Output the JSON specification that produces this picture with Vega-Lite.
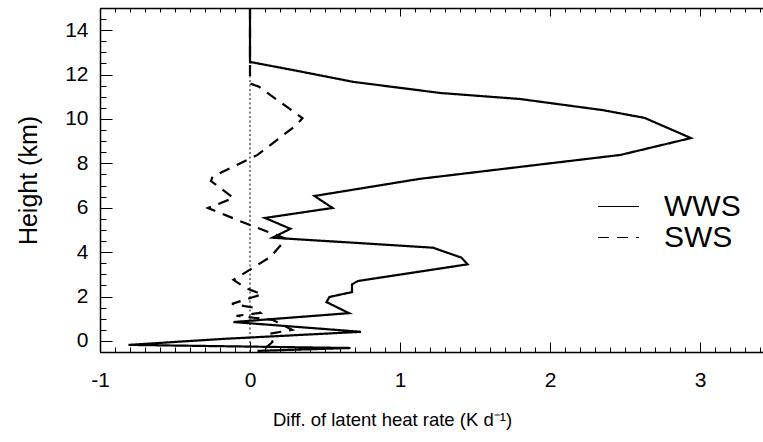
{
  "$schema": "https://vega.github.io/schema/vega-lite/v6.json",
  "width": 663,
  "height": 344,
  "autosize": {"type": "none"},
  "padding": {"left": 100, "top": 8, "right": 0, "bottom": 90},
  "background": "white",
  "config": {
    "view": {"stroke": null},
    "font": "Liberation Sans",
    "axis": {"domainColor": "black", "tickColor": "black", "labelColor": "black", "titleColor": "black", "grid": false, "titleFontWeight": "normal", "labelFlush": false}
  },
  "datasets": {
    "profiles": [
      {"series": "WWS", "h": 15.0, "v": 0},
      {"series": "WWS", "h": 12.57, "v": 0},
      {"series": "WWS", "h": 12.2, "v": 0.29},
      {"series": "WWS", "h": 11.67, "v": 0.69},
      {"series": "WWS", "h": 11.17, "v": 1.27},
      {"series": "WWS", "h": 10.9, "v": 1.8},
      {"series": "WWS", "h": 10.4, "v": 2.35},
      {"series": "WWS", "h": 10.05, "v": 2.63},
      {"series": "WWS", "h": 9.14, "v": 2.94},
      {"series": "WWS", "h": 8.38, "v": 2.47},
      {"series": "WWS", "h": 7.8, "v": 1.75},
      {"series": "WWS", "h": 7.3, "v": 1.13},
      {"series": "WWS", "h": 6.53, "v": 0.43},
      {"series": "WWS", "h": 5.99, "v": 0.55},
      {"series": "WWS", "h": 5.54, "v": 0.1},
      {"series": "WWS", "h": 5.05, "v": 0.27},
      {"series": "WWS", "h": 4.65, "v": 0.15},
      {"series": "WWS", "h": 4.2, "v": 1.22},
      {"series": "WWS", "h": 3.75, "v": 1.41},
      {"series": "WWS", "h": 3.45, "v": 1.45},
      {"series": "WWS", "h": 2.7, "v": 0.72},
      {"series": "WWS", "h": 2.55, "v": 0.68},
      {"series": "WWS", "h": 2.2, "v": 0.68},
      {"series": "WWS", "h": 1.98, "v": 0.53},
      {"series": "WWS", "h": 1.75, "v": 0.51},
      {"series": "WWS", "h": 1.25, "v": 0.66},
      {"series": "WWS", "h": 0.85, "v": -0.11},
      {"series": "WWS", "h": 0.41, "v": 0.74},
      {"series": "WWS", "h": 0.09, "v": -0.18},
      {"series": "WWS", "h": -0.18, "v": -0.81},
      {"series": "WWS", "h": -0.32, "v": 0.67},
      {"series": "WWS", "h": -0.45, "v": 0.05},
      {"series": "SWS", "h": 15.0, "v": 0},
      {"series": "SWS", "h": 12.3, "v": 0},
      {"series": "SWS", "h": 11.6, "v": 0},
      {"series": "SWS", "h": 11.45, "v": 0.06},
      {"series": "SWS", "h": 10.04, "v": 0.35},
      {"series": "SWS", "h": 9.73, "v": 0.31},
      {"series": "SWS", "h": 8.38, "v": 0.05},
      {"series": "SWS", "h": 7.4, "v": -0.25},
      {"series": "SWS", "h": 7.2, "v": -0.26},
      {"series": "SWS", "h": 6.44, "v": -0.11},
      {"series": "SWS", "h": 5.99, "v": -0.28},
      {"series": "SWS", "h": 5.3, "v": -0.03},
      {"series": "SWS", "h": 4.6, "v": 0.24},
      {"series": "SWS", "h": 3.8, "v": 0.14},
      {"series": "SWS", "h": 2.75, "v": -0.11},
      {"series": "SWS", "h": 2.39, "v": -0.03},
      {"series": "SWS", "h": 2.1, "v": 0.08},
      {"series": "SWS", "h": 1.67, "v": -0.12},
      {"series": "SWS", "h": 1.49, "v": 0.03},
      {"series": "SWS", "h": 1.26, "v": 0.07},
      {"series": "SWS", "h": 1.13, "v": -0.09},
      {"series": "SWS", "h": 0.95, "v": 0.15},
      {"series": "SWS", "h": 0.5, "v": 0.28},
      {"series": "SWS", "h": 0.32, "v": 0.13},
      {"series": "SWS", "h": -0.05, "v": 0.15},
      {"series": "SWS", "h": -0.45, "v": 0.08}
    ]
  },
  "layer": [
    {
      "data": {"values": [{"ref": 0}]},
      "mark": {"type": "rule", "color": "black", "strokeWidth": 1, "strokeDash": [2, 2.5]},
      "encoding": {
        "x": {
          "field": "ref", "type": "quantitative",
          "scale": {"domain": [-1, 3.42], "nice": false, "zero": false},
          "axis": {
            "orient": "bottom", "labels": false, "domain": false, "title": null,
            "tickSize": -5, "tickWidth": 1,
            "values": [-1,-0.9,-0.8,-0.7,-0.6,-0.5,-0.4,-0.3,-0.2,-0.1,0,0.1,0.2,0.3,0.4,0.5,0.6,0.7,0.8,0.9,1,1.1,1.2,1.3,1.4,1.5,1.6,1.7,1.8,1.9,2,2.1,2.2,2.3,2.4,2.5,2.6,2.7,2.8,2.9,3,3.1,3.2,3.3,3.4]
          }
        }
      }
    },
    {
      "data": {"name": "profiles"},
      "mark": {"type": "line", "color": "black", "strokeWidth": 2.2},
      "encoding": {
        "x": {
          "field": "v", "type": "quantitative",
          "scale": {"domain": [-1, 3.42], "nice": false, "zero": false},
          "axis": {
            "orient": "bottom", "values": [-1, 0, 1, 2, 3], "labelExpr": "'' + datum.value",
            "tickSize": -10, "tickWidth": 1, "labelPadding": 27, "domainWidth": 1.5,
            "labelFontSize": 21, "title": "Diff. of latent heat rate (K d⁻¹)",
            "titleFontSize": 18.5, "titlePadding": 20, "titleX": 292
          }
        },
        "y": {
          "field": "h", "type": "quantitative",
          "scale": {"domain": [-0.5, 15], "nice": false, "zero": false},
          "axis": {
            "orient": "left", "values": [0, 2, 4, 6, 8, 10, 12, 14], "labelExpr": "'' + datum.value",
            "tickSize": -12, "tickWidth": 1, "labelPadding": 24, "domainWidth": 1.5,
            "labelFontSize": 21, "title": "Height (km)", "titleFontSize": 25, "titlePadding": 23
          }
        },
        "strokeDash": {
          "field": "series", "type": "nominal",
          "scale": {"domain": ["WWS", "SWS"], "range": [[1, 0], [11, 8]]},
          "legend": {
            "orient": "none", "legendX": 497, "legendY": 183, "title": null,
            "labelFontSize": 30, "labelColor": "black", "symbolType": "stroke",
            "symbolSize": 1681, "symbolStrokeWidth": 1.2, "symbolStrokeColor": "black",
            "labelOffset": 24, "rowPadding": 0, "clipHeight": 31
          }
        },
        "order": {"field": "h", "type": "quantitative", "sort": "descending"}
      }
    },
    {
      "data": {"name": "profiles"},
      "mark": {"type": "line", "strokeOpacity": 0},
      "encoding": {
        "x": {
          "field": "v", "type": "quantitative",
          "scale": {"domain": [-1, 3.42], "nice": false, "zero": false},
          "axis": {
            "orient": "top", "labels": false, "title": null, "domainWidth": 1.5,
            "tickSize": -4, "tickWidth": 1,
            "values": [-1,-0.9,-0.8,-0.7,-0.6,-0.5,-0.4,-0.3,-0.2,-0.1,0,0.1,0.2,0.3,0.4,0.5,0.6,0.7,0.8,0.9,1,1.1,1.2,1.3,1.4,1.5,1.6,1.7,1.8,1.9,2,2.1,2.2,2.3,2.4,2.5,2.6,2.7,2.8,2.9,3,3.1,3.2,3.3,3.4]
          }
        },
        "y": {
          "field": "h", "type": "quantitative",
          "scale": {"domain": [-0.5, 15], "nice": false, "zero": false},
          "axis": {
            "orient": "left", "labels": false, "title": null, "domain": false,
            "tickSize": -6, "tickWidth": 1,
            "values": [-0.5,0,0.5,1,1.5,2,2.5,3,3.5,4,4.5,5,5.5,6,6.5,7,7.5,8,8.5,9,9.5,10,10.5,11,11.5,12,12.5,13,13.5,14,14.5,15]
          }
        },
        "order": {"field": "h", "type": "quantitative", "sort": "descending"},
        "detail": {"field": "series", "type": "nominal"}
      }
    },
    {
      "data": {"name": "profiles"},
      "mark": {"type": "line", "strokeOpacity": 0},
      "encoding": {
        "x": {
          "field": "v", "type": "quantitative",
          "scale": {"domain": [-1, 3.42], "nice": false, "zero": false},
          "axis": {
            "orient": "top", "labels": false, "title": null, "domain": false,
            "tickSize": -8, "tickWidth": 1, "values": [-1, 0, 1, 2, 3]
          }
        },
        "y": {
          "field": "h", "type": "quantitative",
          "scale": {"domain": [-0.5, 15], "nice": false, "zero": false},
          "axis": null
        },
        "order": {"field": "h", "type": "quantitative", "sort": "descending"},
        "detail": {"field": "series", "type": "nominal"}
      }
    }
  ],
  "resolve": {"axis": {"x": "independent", "y": "independent"}}
}
